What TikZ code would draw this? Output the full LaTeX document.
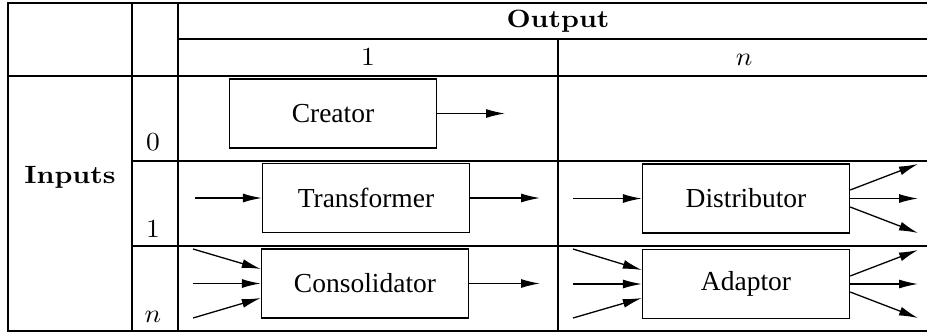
\documentclass[tikz,border=0pt]{standalone}
\usepackage{fontspec}
\newfontfamily\boxfont{Liberation Serif}
\usetikzlibrary{arrows.meta}
% table headings in Latin Modern, enlarged and set slightly wide
\newcommand\hdrtext[1]{\scalebox{2.8}[2.5]{\fontsize{10}{12}\selectfont\bfseries #1}}
\newcommand\idxtext[1]{\scalebox{2.75}[2.6]{\fontsize{10}{12}\selectfont #1}}

\begin{document}
\begin{tikzpicture}[x=1pt,y=-1pt,
  rule/.style={line width=1.3pt,line cap=rect},
  block/.style={draw,line width=1.3pt,minimum width=207pt,minimum height=69pt,
    inner sep=0pt,font=\boxfont\fontsize{27.5}{33}\selectfont},
  flow/.style={line width=1.3pt,-{Latex[length=19pt,width=9pt]}},
  hdr/.style={inner sep=0pt,anchor=base}]

\fill[white] (0,0) rectangle (927,333);
\useasboundingbox (0,0) rectangle (927,333);

% grid of the table
\draw[rule] (8,3) -- (927,3);
\draw[rule] (178,39) -- (927,39);
\draw[rule] (8,76) -- (927,76);
\draw[rule] (132,161) -- (927,161);
\draw[rule] (132,246) -- (927,246);
\draw[rule] (8,331) -- (927,331);
\draw[rule] (8,3) -- (8,331);
\draw[rule] (132,3) -- (132,331);
\draw[rule] (178,3) -- (178,331);
\draw[rule] (558,39) -- (558,331);

% headings
\node[hdr] (out)  at (558,27)  {\hdrtext{Output}};
\node[hdr] (one)  at (368,65)  {\idxtext{1}};
\node[hdr] (many) at (744,65)  {\idxtext{$n$}};
\node[hdr] (inp)  at (70,183)  {\hdrtext{Inputs}};
\node[hdr] (in0)  at (153,150) {\idxtext{0}};
\node[hdr] (in1)  at (153,237) {\idxtext{1}};
\node[hdr] (inn)  at (153,322) {\idxtext{$n$}};

% components
\node[block] (cre) at (333,113.5) {Creator};
\node[block] (tra) at (366,198)   {Transformer};
\node[block] (con) at (365,283.5) {Consolidator};
\node[block] (dis) at (746,198.5) {Distributor};
\node[block] (ada) at (746,284)   {Adaptor};

% creator
\coordinate (creOut) at (505,113.5);
\draw[flow] (cre.east) -- (creOut);

% transformer
\coordinate (traIn)  at (195,198);
\coordinate (traOut) at (540,198);
\draw[flow] (traIn) -- (tra.west);
\draw[flow] (tra.east) -- (traOut);

% consolidator
\coordinate (conInA) at (193,249);
\coordinate (conInB) at (193,283.5);
\coordinate (conInC) at (193,318);
\coordinate (conOut) at (540,283.5);
\draw[flow] (conInA) -- ([yshift=14.5pt]con.west);
\draw[flow] (conInB) -- (con.west);
\draw[flow] (conInC) -- ([yshift=-14.5pt]con.west);
\draw[flow] (con.east) -- (conOut);

% distributor
\coordinate (disIn)   at (573,198.5);
\coordinate (disOutA) at (918,164);
\coordinate (disOutB) at (918,198.5);
\coordinate (disOutC) at (918,233);
\draw[flow] (disIn) -- (dis.west);
\draw[flow] ([yshift=8.5pt]dis.east) -- (disOutA);
\draw[flow] (dis.east) -- (disOutB);
\draw[flow] ([yshift=-8.5pt]dis.east) -- (disOutC);

% adaptor
\coordinate (adaInA)  at (573,249);
\coordinate (adaInB)  at (573,284);
\coordinate (adaInC)  at (573,318);
\coordinate (adaOutA) at (918,250);
\coordinate (adaOutB) at (918,284);
\coordinate (adaOutC) at (918,318);
\draw[flow] (adaInA) -- ([yshift=14pt]ada.west);
\draw[flow] (adaInB) -- (ada.west);
\draw[flow] (adaInC) -- ([yshift=-14pt]ada.west);
\draw[flow] ([yshift=8pt]ada.east) -- (adaOutA);
\draw[flow] (ada.east) -- (adaOutB);
\draw[flow] ([yshift=-8pt]ada.east) -- (adaOutC);
\end{tikzpicture}
\end{document}
